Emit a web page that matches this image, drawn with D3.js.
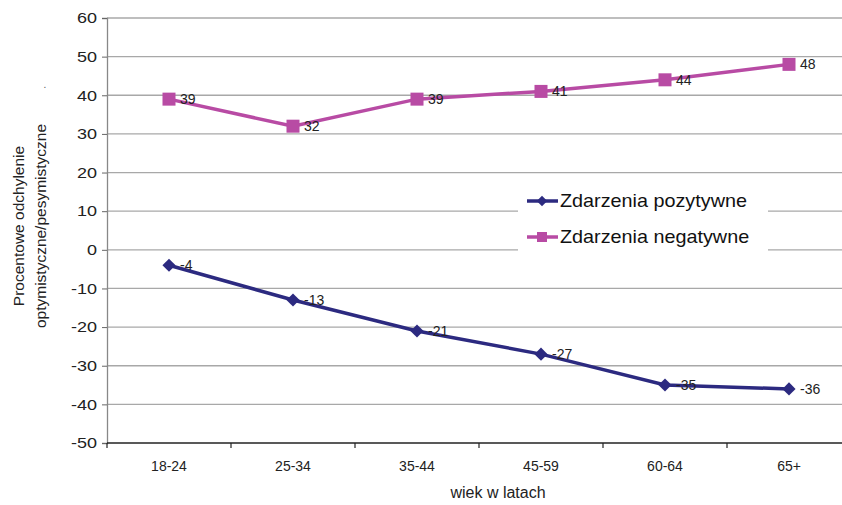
<!DOCTYPE html>
<html>
<head>
<meta charset="utf-8">
<script src="https://cdn.jsdelivr.net/npm/d3@7"></script>
<style>
  body { margin: 0; background: #fff; }
  svg { display: block; font-family: "Liberation Sans", Arial, sans-serif; }
</style>
</head>
<body>
<svg id="chart" width="842" height="505"></svg>
<script>
// Age groups and percentage deviation per event type
const categories = ["18-24", "25-34", "35-44", "45-59", "60-64", "65+"];
const positiveValues = [-4, -13, -21, -27, -35, -36];
const negativeValues = [39, 32, 39, 41, 44, 48];
const yTicks = [60, 50, 40, 30, 20, 10, 0, -10, -20, -30, -40, -50];
const seriesNames = ["Zdarzenia pozytywne", "Zdarzenia negatywne"];

const svg = d3.select("#chart");
const margin = { left: 107, right: -9, top: 18, bottom: 62 };
const W = 842, H = 505;

const x = d3.scaleBand()
  .domain(categories)
  .range([margin.left, W - margin.right]);
const y = d3.scaleLinear()
  .domain([-50, 60])
  .range([H - margin.bottom, margin.top]);

const colPos = "#2c2a80";
const colNeg = "#b84ba4";

// horizontal gridlines
svg.append("g").selectAll("line")
  .data(yTicks.filter(d => d !== -50))
  .join("line")
  .attr("x1", margin.left).attr("x2", W)
  .attr("y1", d => y(d)).attr("y2", d => y(d))
  .attr("stroke", "#a8a8a8").attr("stroke-width", 1.3);

// y axis (plain hyphen for negatives, slightly widened labels)
const yAxis = svg.append("g")
  .attr("transform", `translate(${margin.left},0)`)
  .call(d3.axisLeft(y).tickValues(yTicks).tickSize(5).tickPadding(6).tickFormat(d => String(d)));
yAxis.select(".domain").attr("stroke", "#888").attr("stroke-width", 1.3);
yAxis.selectAll(".tick line").attr("stroke", "#666");
yAxis.selectAll("text")
  .attr("x", 0)
  .attr("transform", "translate(-10,0) scale(1.2,1)")
  .attr("font-size", 15).attr("fill", "#222")
  .attr("font-family", "Liberation Sans, Arial, sans-serif");

// x axis with ticks at category boundaries
const xAxisG = svg.append("g")
  .attr("transform", `translate(0,${y(-50)})`);
xAxisG.append("line")
  .attr("x1", margin.left).attr("x2", W)
  .attr("stroke", "#222").attr("stroke-width", 1.3);
const bounds = categories.map(c => x(c)).concat([x(categories[categories.length - 1]) + x.bandwidth()]);
xAxisG.selectAll("line.tk")
  .data(bounds)
  .join("line").attr("class", "tk")
  .attr("x1", d => d).attr("x2", d => d)
  .attr("y1", 0).attr("y2", 5)
  .attr("stroke", "#222").attr("stroke-width", 1.2);
xAxisG.selectAll("text")
  .data(categories)
  .join("text")
  .attr("x", d => x(d) + x.bandwidth() / 2)
  .attr("y", 28)
  .attr("text-anchor", "middle")
  .attr("font-size", 14).attr("fill", "#222")
  .text(d => d);

// axis titles
svg.append("text")
  .attr("x", 498).attr("y", 498)
  .attr("text-anchor", "middle")
  .attr("font-size", 16).attr("fill", "#222")
  .text("wiek w latach");

const yTitle = svg.append("text")
  .attr("transform", "translate(24,226) rotate(-90)")
  .attr("text-anchor", "middle")
  .attr("font-size", 15.5).attr("fill", "#222");
yTitle.append("tspan").attr("x", 0).attr("dy", 0).text("Procentowe odchylenie");
yTitle.append("tspan").attr("x", 0).attr("dy", 22).text("optymistyczne/pesymistyczne");

svg.append("text")
  .attr("x", 45).attr("y", 88)
  .attr("text-anchor", "middle")
  .attr("font-size", 10).attr("fill", "#555")
  .text(".");

const cx = d => x(d) + x.bandwidth() / 2;
const line = d3.line().x(d => cx(d.c)).y(d => y(d.v));

const posData = categories.map((c, i) => ({ c, v: positiveValues[i] }));
const negData = categories.map((c, i) => ({ c, v: negativeValues[i] }));

// negative series (squares)
svg.append("path").datum(negData)
  .attr("d", line).attr("fill", "none")
  .attr("stroke", colNeg).attr("stroke-width", 3.5);
svg.append("g").selectAll("rect")
  .data(negData).join("rect")
  .attr("x", d => cx(d.c) - 6.5).attr("y", d => y(d.v) - 6.5)
  .attr("width", 13).attr("height", 13)
  .attr("fill", colNeg);
svg.append("g").selectAll("text")
  .data(negData).join("text")
  .attr("x", d => cx(d.c) + 11).attr("y", d => y(d.v) + 5)
  .attr("font-size", 14).attr("fill", "#222")
  .text(d => d.v);

// positive series (diamonds)
svg.append("path").datum(posData)
  .attr("d", line).attr("fill", "none")
  .attr("stroke", colPos).attr("stroke-width", 3.5);
svg.append("g").selectAll("path")
  .data(posData).join("path")
  .attr("d", d3.symbol(d3.symbolDiamond2, 110))
  .attr("transform", d => `translate(${cx(d.c)},${y(d.v)})`)
  .attr("fill", colPos);
svg.append("g").selectAll("text")
  .data(posData).join("text")
  .attr("x", d => cx(d.c) + 11).attr("y", d => y(d.v) + 5)
  .attr("font-size", 14).attr("fill", "#222")
  .text(d => d.v);

// legend
const lg = svg.append("g").attr("transform", "translate(518,178)");
lg.append("rect").attr("width", 250).attr("height", 76).attr("fill", "#fff");
const items = [
  { name: seriesNames[0], color: colPos, shape: "diamond" },
  { name: seriesNames[1], color: colNeg, shape: "square" }
];
items.forEach((it, i) => {
  const yy = 23 + i * 36;
  lg.append("line")
    .attr("x1", 9).attr("x2", 40).attr("y1", yy).attr("y2", yy)
    .attr("stroke", it.color).attr("stroke-width", 3.5);
  if (it.shape === "diamond") {
    lg.append("path")
      .attr("d", d3.symbol(d3.symbolDiamond2, 70))
      .attr("transform", `translate(24,${yy})`)
      .attr("fill", it.color);
  } else {
    lg.append("rect")
      .attr("x", 19).attr("y", yy - 5).attr("width", 10).attr("height", 10)
      .attr("fill", it.color);
  }
  lg.append("text")
    .attr("transform", `translate(42,${yy + 6}) scale(1.1,1)`)
    .attr("font-size", 18).attr("fill", "#111")
    .text(it.name);
});
</script>
</body>
</html>
